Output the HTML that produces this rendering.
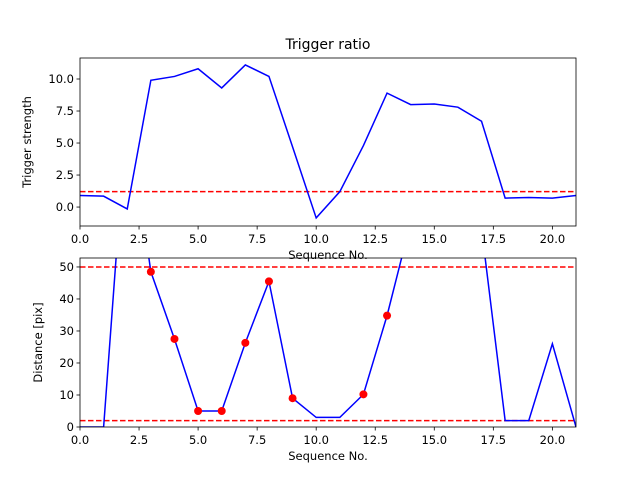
<!DOCTYPE html>
<html><head><meta charset="utf-8"><style>body{margin:0;background:#fff}svg{display:block;font-family:"DejaVu Sans","Liberation Sans",sans-serif}</style></head>
<body>
<svg id="c" width="640" height="480"></svg>
<script>
const seq = [0,1,2,3,4,5,6,7,8,9,10,11,12,13,14,15,16,17,18,19,20,21];
const strength = [0.9,0.85,-0.15,9.9,10.2,10.8,9.3,11.1,10.2,4.7,-0.85,1.2,4.8,8.9,8.0,8.05,7.8,6.7,0.7,0.75,0.7,0.9];
const strengthThreshold = [1.2];
const distance = [0,0,100,48.5,27.5,5,5,26.3,45.5,9,3,3,10.2,34.8,64,64,64,62,2,2,26,0];
const distanceThresholds = [50,2];
const markedIdx = [3,4,5,6,7,8,9,12,13];
const xTicks = [0,2.5,5,7.5,10,12.5,15,17.5,20];
const yTicksTop = [0,2.5,5,7.5,10];
const yTicksBot = [0,10,20,30,40,50];

const NS="http://www.w3.org/2000/svg", svg=document.getElementById('c');
function mk(t,a,p){const e=document.createElementNS(NS,t);for(const k in a)e.setAttribute(k,a[k]);(p||svg).appendChild(e);return e;}
function panel(name,top,bot,ymin,ymax,yt,ys,thr,xlabel,ylabel,title,dots){
  const L=80,R=576;
  const x=v=>L+(v-0)/21*(R-L), y=v=>bot-(v-ymin)/(ymax-ymin)*(bot-top);
  const g=mk('g',{});
  mk('defs',{},g).innerHTML=`<clipPath id="cl${name}"><rect x="${L}" y="${top}" width="${R-L}" height="${bot-top}"/></clipPath>`;
  const pg=mk('g',{'clip-path':`url(#cl${name})`},g);
  thr.forEach(t=>{const l=mk('line',{x1:L,x2:R,y1:y(t),y2:y(t),stroke:'#ff0000','stroke-width':1.5,'stroke-dasharray':'5.5,2.5'},pg);});
  const p=mk('polyline',{points:seq.map((s,i)=>x(s)+','+y(ys[i])).join(' '),fill:'none',stroke:'#0000ff','stroke-width':1.5},pg);
  
  if(dots)dots.forEach(i=>{const c=mk('circle',{cx:x(seq[i]),cy:y(ys[i]),r:4,fill:'#ff0000'},pg);});
  const f=mk('rect',{x:L,y:top,width:R-L,height:bot-top,fill:'none',stroke:'#000','stroke-width':0.8},g);
  xTicks.forEach(t=>{mk('line',{x1:x(t),x2:x(t),y1:bot,y2:bot+3.5,stroke:'#000','stroke-width':0.8},g);const tx=mk('text',{x:x(t),y:bot+17,'font-size':11.5,'text-anchor':'middle'},g);tx.textContent=t.toFixed(1);});
  yt.forEach(t=>{mk('line',{x1:L-3.5,x2:L,y1:y(t),y2:y(t),stroke:'#000','stroke-width':0.8},g);const tx=mk('text',{x:L-6,y:y(t)+4,'font-size':11.5,'text-anchor':'end'},g);tx.textContent=(name==='top'?t.toFixed(1):String(t));});
  const xl=mk('text',{x:(L+R)/2,y:bot+33,'font-size':11.5,'text-anchor':'middle'},g);xl.textContent=xlabel;
  const yl=mk('text',{x:0,y:0,'font-size':11.5,'text-anchor':'middle',transform:`translate(${name==='top'?31:42},${(top+bot)/2}) rotate(-90)`},g);yl.textContent=ylabel;
  if(title){const tt=mk('text',{x:(L+R)/2,y:top-9,'font-size':14,'text-anchor':'middle'},g);tt.textContent=title;}
}
panel('top',58,226,-1.48,11.64,yTicksTop,strength,strengthThreshold,'Sequence No.','Trigger strength','Trigger ratio',null);
panel('bottom',258,427,0,52.8,yTicksBot,distance,distanceThresholds,'Sequence No.','Distance [pix]',null,markedIdx);
</script>
</body></html>
